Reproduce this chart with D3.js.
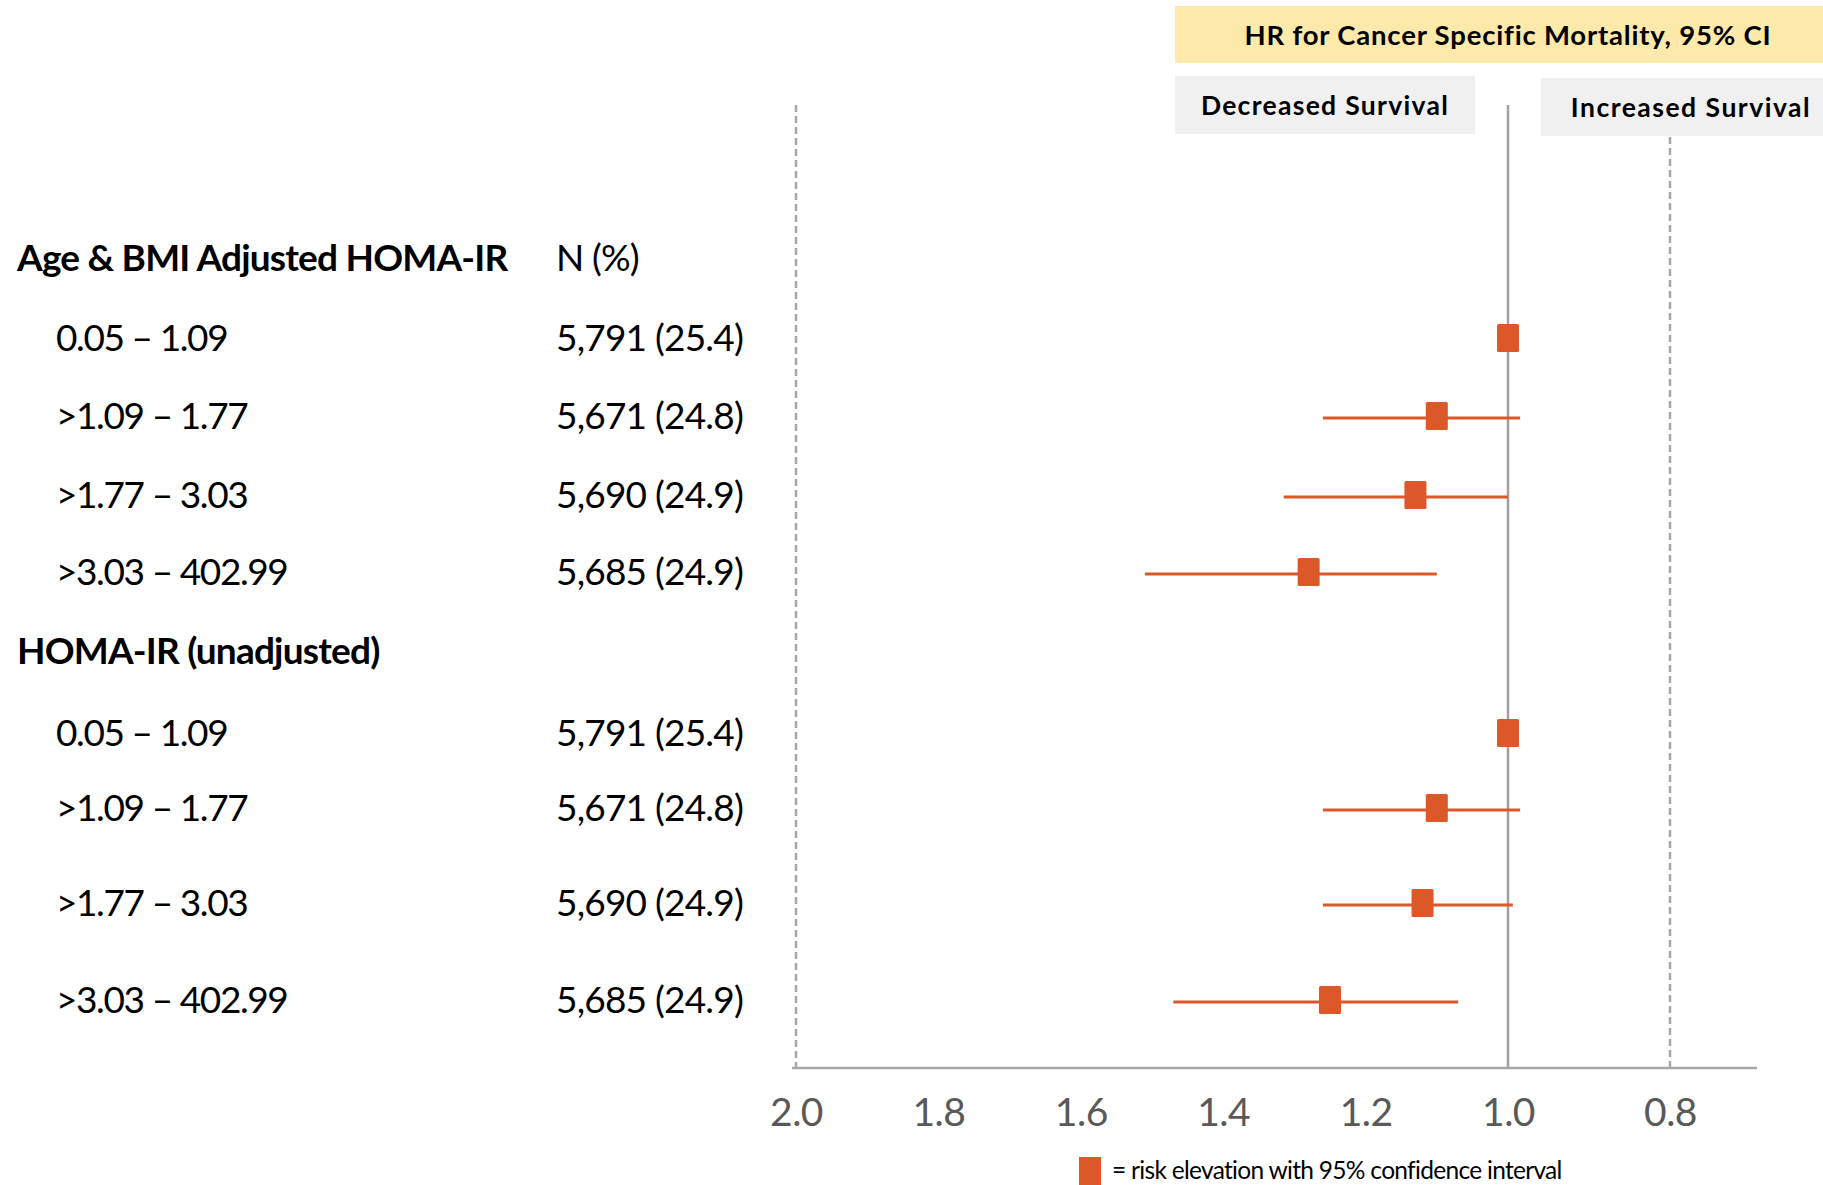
<!DOCTYPE html>
<html>
<head>
<meta charset="utf-8">
<script src="https://cdn.jsdelivr.net/npm/d3@7"></script>
<style>
  html, body { margin: 0; padding: 0; background: #ffffff; }
  svg { display: block; font-family: "Lato", "Open Sans", sans-serif; }
</style>
</head>
<body>
<script>
// ---- data -------------------------------------------------------------
const groups = ["Age & BMI Adjusted HOMA-IR", "HOMA-IR (unadjusted)"];
const categories = ["0.05 – 1.09", ">1.09 – 1.77", ">1.77 – 3.03", ">3.03 – 402.99"];
const nPercent = ["5,791 (25.4)", "5,671 (24.8)", "5,690 (24.9)", "5,685 (24.9)"];

// hazard ratios (first quartile is the reference group, no interval)
const hrAdjusted   = [1.00, 1.10, 1.13, 1.28];
const ciLowAdjusted  = [null, 0.985, 1.00, 1.10];
const ciHighAdjusted = [null, 1.26, 1.315, 1.51];

const hrUnadjusted   = [1.00, 1.10, 1.12, 1.25];
const ciLowUnadjusted  = [null, 0.985, 0.994, 1.07];
const ciHighUnadjusted = [null, 1.26, 1.26, 1.47];

const tickValues = [2.0, 1.8, 1.6, 1.4, 1.2, 1.0, 0.8];
const referenceLines = [2.0, 1.0, 0.8];

const titleText = "HR for Cancer Specific Mortality, 95% CI";
const leftLabel = "Decreased Survival";
const rightLabel = "Increased Survival";
const columnHeader = "N (%)";
const legendText = "= risk elevation with 95% confidence interval";

// ---- layout -----------------------------------------------------------
const W = 1823, H = 1185;
const ORANGE = "#DD5829";
const GRID = "#A6A6A6";

const svg = d3.select("body").append("svg")
  .attr("width", W).attr("height", H);

// table rows: heading, four quartiles, heading, four quartiles
const rows = [];
[[hrAdjusted, ciLowAdjusted, ciHighAdjusted],
 [hrUnadjusted, ciLowUnadjusted, ciHighUnadjusted]].forEach((set, g) => {
  rows.push({ type: "group", label: groups[g] });
  categories.forEach((c, i) => rows.push({
    type: "row", label: c, n: nPercent[i],
    hr: set[0][i], lo: set[1][i], hi: set[2][i]
  }));
});

// row centres (bottom block is spaced a little more loosely)
const y = d3.scaleLinear()
  .domain(d3.range(rows.length))
  .range([258, 338, 416, 495, 572, 651, 733, 808, 903, 1000]);

// HR axis is reversed; the segment past 1.0 is drawn wider
const x = d3.scaleLinear()
  .domain([2.0, 1.0, 0.8, 0.6925])
  .range([796, 1508, 1670, 1757]);

const axisY = 1068;
const plotTop = 105;

// ---- header boxes -----------------------------------------------------
svg.append("rect").attr("x", 1175).attr("y", 6).attr("width", W - 1175).attr("height", 57)
  .attr("fill", "#FDE9A9");
svg.append("text").attr("x", 1508).attr("y", 45)
  .attr("text-anchor", "middle").attr("font-weight", 700).attr("font-size", 27.5)
  .attr("letter-spacing", 0.8)
  .attr("fill", "#000").text(titleText);

svg.append("rect").attr("x", 1175).attr("y", 76).attr("width", 300).attr("height", 58)
  .attr("fill", "#F0F0F0");
svg.append("text").attr("x", 1325).attr("y", 115)
  .attr("text-anchor", "middle").attr("font-weight", 700).attr("font-size", 26.5)
  .attr("letter-spacing", 1.3)
  .attr("fill", "#000").text(leftLabel);

svg.append("rect").attr("x", 1541).attr("y", 78).attr("width", W - 1541).attr("height", 58)
  .attr("fill", "#F0F0F0");
svg.append("text").attr("x", 1691).attr("y", 117)
  .attr("text-anchor", "middle").attr("font-weight", 700).attr("font-size", 26.5)
  .attr("letter-spacing", 1.5)
  .attr("fill", "#000").text(rightLabel);

// ---- reference lines --------------------------------------------------
const refTop = { 2.0: plotTop, 1.0: plotTop, 0.8: 137 };
svg.append("g").selectAll("line").data(referenceLines).join("line")
  .attr("x1", d => x(d)).attr("x2", d => x(d))
  .attr("y1", d => refTop[d]).attr("y2", axisY)
  .attr("stroke", d => d === 1.0 ? "#A0A0A0" : GRID)
  .attr("stroke-width", 2.5)
  .attr("stroke-dasharray", d => d === 1.0 ? null : "7,4");

// ---- x axis -----------------------------------------------------------
const axis = d3.axisBottom(x)
  .tickValues(tickValues)
  .tickFormat(d3.format(".1f"))
  .tickSize(0)
  .tickPadding(30);

const gx = svg.append("g").attr("transform", `translate(0,${axisY})`).call(axis);
gx.select(".domain").attr("stroke", GRID).attr("stroke-width", 2.5)
  .attr("d", `M${x(2.0) - 4},0H${x.range()[3]}`);
gx.selectAll("text")
  .attr("font-family", "Lato, 'Open Sans', sans-serif")
  .attr("font-size", 39).attr("fill", "#595959")
  .attr("letter-spacing", -0.5);

// ---- table text -------------------------------------------------------
const table = svg.append("g");
rows.forEach((r, i) => {
  if (r.type === "group") {
    table.append("text").attr("x", 17).attr("y", y(i)).attr("dy", "0.36em")
      .attr("font-weight", 700).attr("font-size", 37).attr("letter-spacing", -0.8)
      .attr("fill", "#000").text(r.label);
  } else {
    table.append("text").attr("x", 56).attr("y", y(i)).attr("dy", "0.36em")
      .attr("font-size", 37).attr("letter-spacing", -1.4)
      .attr("fill", "#000").text(r.label);
    table.append("text").attr("x", 556).attr("y", y(i)).attr("dy", "0.36em")
      .attr("font-size", 37).attr("letter-spacing", -0.8)
      .attr("fill", "#000").text(r.n);
  }
});
table.append("text").attr("x", 556).attr("y", y(0)).attr("dy", "0.36em")
  .attr("font-size", 37).attr("letter-spacing", -0.9)
  .attr("fill", "#000").text(columnHeader);

// ---- confidence intervals and point estimates ------------------------
const estimates = rows.map((r, i) => ({ ...r, i })).filter(r => r.type === "row");

svg.append("g").selectAll("line").data(estimates.filter(d => d.lo !== null)).join("line")
  .attr("x1", d => x(d.hi)).attr("x2", d => x(d.lo))
  .attr("y1", d => y(d.i) + 2).attr("y2", d => y(d.i) + 2)
  .attr("stroke", ORANGE).attr("stroke-width", 3);

const boxW = 22, boxH = 28;
svg.append("g").selectAll("rect").data(estimates).join("rect")
  .attr("x", d => x(d.hr) - boxW / 2).attr("y", d => y(d.i) - boxH / 2)
  .attr("width", boxW).attr("height", boxH).attr("rx", 1.5)
  .attr("fill", ORANGE);

// ---- legend -----------------------------------------------------------
svg.append("rect").attr("x", 1079).attr("y", 1157).attr("width", 22).attr("height", 28)
  .attr("fill", ORANGE);
svg.append("text").attr("x", 1112).attr("y", 1179)
  .attr("font-size", 24.5).attr("letter-spacing", -0.7)
  .attr("fill", "#000").text(legendText);
</script>
</body>
</html>
